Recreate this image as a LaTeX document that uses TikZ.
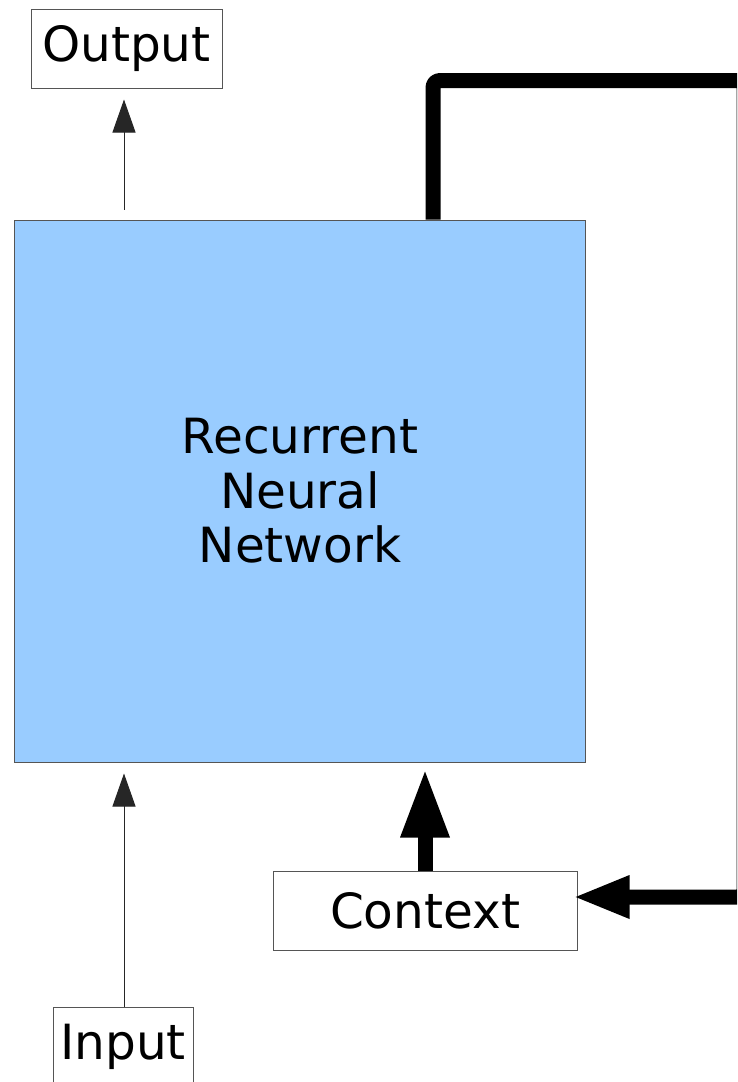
\documentclass[tikz,border=0pt]{standalone}
\usepackage{fontspec}
\setmainfont{DejaVu Sans}
\usetikzlibrary{arrows.meta}
\definecolor{rnnblue}{HTML}{99CCFF}
\definecolor{edge}{HTML}{555555}
\tikzset{
  box/.style={draw=edge, line width=1pt, fill=white, inner sep=0pt, font=\fontsize{48.5}{55}\selectfont, align=center},
  thinarrow/.style={draw=black!85, line width=1pt, -{Triangle[length=33pt,width=23pt]}},
  fatline/.style={draw=black, line width=15pt, line join=round},
}
\begin{document}
\begin{tikzpicture}[x=1pt,y=-1pt]
\clip (0,0) rectangle (737,1082);
\fill[white] (0,0) rectangle (737,1082);
% nodes
\node[box, minimum width=191pt, minimum height=79pt] (outp) at (126.5,48.5) {Output};
\node[box, fill=rnnblue, minimum width=571pt, minimum height=542pt] (rnn) at (299.5,491) {};
\node[font=\fontsize{48.5}{54.5}\selectfont, align=center] (rnntext) at (300,491) {Recurrent\\Neural\\Network};
\node[box, minimum width=304pt, minimum height=79pt] (ctx) at (425,910.5) {Context};
\node[box, minimum width=140pt, minimum height=80pt] (inp) at (123,1047) {Input};
% helper coordinates
\coordinate (ax) at (124,0);
\coordinate (cx) at (425,0);
\coordinate (lt) at (433,80.5);
\coordinate (rt) at (744,80.5);
\coordinate (rb) at (744,897);
% connectors
\draw[thinarrow, shorten <=10pt, shorten >=11pt] (rnn.north -| ax) -- (outp.south -| ax);
\draw[thinarrow, shorten >=11pt] (inp.north -| ax) -- (rnn.south -| ax);
\draw[fatline, -{Triangle[length=69pt,width=45pt]}, shorten >=6pt] (ctx.north -| cx) -- (rnn.south -| cx);
\draw[fatline, rounded corners=7pt, -{Triangle[length=57pt,width=39pt]}, shorten >=-5pt] (rnn.north -| lt) -- (lt) -- (rt) -- (rb) -- (ctx.east |- rb);
\end{tikzpicture}
\end{document}
